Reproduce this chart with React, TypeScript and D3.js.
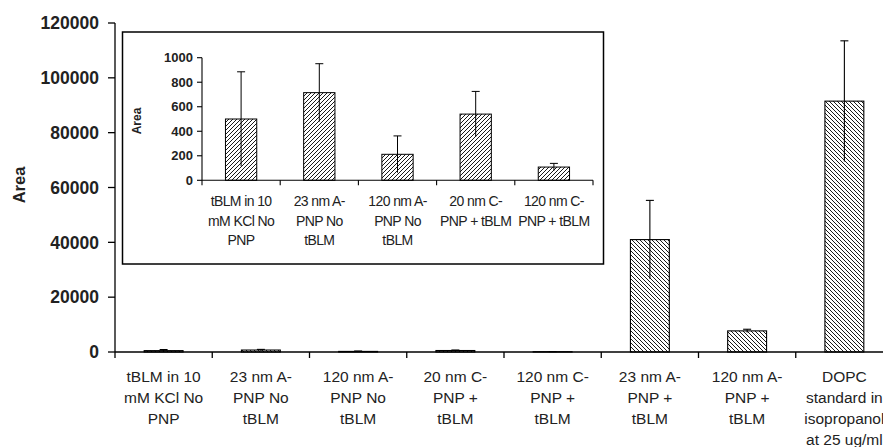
import React, { useEffect } from "react";
import * as d3 from "d3";

const mainLabels = [
  ["tBLM in 10", "mM KCl No", "PNP"],
  ["23 nm A-", "PNP No", "tBLM"],
  ["120 nm A-", "PNP No", "tBLM"],
  ["20 nm C-", "PNP +", "tBLM"],
  ["120 nm C-", "PNP +", "tBLM"],
  ["23 nm A-", "PNP +", "tBLM"],
  ["120 nm A-", "PNP +", "tBLM"],
  ["DOPC", "standard in", "isopropanol", "at 25 ug/ml"],
];
const mainValues = [500, 715, 212, 540, 108, 41000, 7700, 91500];
const mainErrors = [385, 236, 150, 185, 30, 14300, 600, 22000];
const mainTicks = [0, 20000, 40000, 60000, 80000, 100000, 120000];

const insetLabels = [
  ["tBLM in 10", "mM KCl No", "PNP"],
  ["23 nm A-", "PNP No", "tBLM"],
  ["120 nm A-", "PNP No", "tBLM"],
  ["20 nm C-", "PNP + tBLM"],
  ["120 nm C-", "PNP + tBLM"],
];
const insetValues = [500, 715, 212, 540, 108];
const insetErrors = [385, 236, 150, 185, 30];
const insetTicks = [0, 200, 400, 600, 800, 1000];

const FONT = "Liberation Sans, Arial, sans-serif";

export default function App() {
  useEffect(() => {
    document.body.style.margin = "0";
  }, []);

  const W = 883;
  const H = 447;

  // main chart
  const x = d3
    .scaleBand<number>()
    .domain(d3.range(mainValues.length))
    .range([115, 893]);
  const y = d3.scaleLinear().domain([0, 120000]).range([352, 23]);
  const bw = x.bandwidth() * 0.4;

  // inset
  const ix = d3
    .scaleBand<number>()
    .domain(d3.range(insetValues.length))
    .range([202, 593]);
  const iy = d3.scaleLinear().domain([0, 1000]).range([180.3, 57.7]);
  const ibw = ix.bandwidth() * 0.4;

  return (
    <svg width={W} height={H} style={{ display: "block", background: "#fff" }} fontFamily={FONT}>
      <defs>
        <pattern id="hatchMain" patternUnits="userSpaceOnUse" width="4" height="4">
          <rect width="4" height="4" fill="#fff" />
          <path d="M-1,-1 L5,5 M-1,3 L1,5 M3,-1 L5,1" stroke="#000" strokeWidth="0.9" />
        </pattern>
        <pattern id="hatchInset" patternUnits="userSpaceOnUse" width="4" height="4">
          <rect width="4" height="4" fill="#fff" />
          <path d="M-1,5 L5,-1 M-1,1 L1,-1 M3,5 L5,3" stroke="#000" strokeWidth="0.9" />
        </pattern>
      </defs>

      {/* main y axis */}
      <line x1={115} x2={115} y1={y(120000)} y2={y(0)} stroke="#000" strokeWidth={1.3} />
      {mainTicks.map((t) => (
        <g key={t}>
          <line x1={108} x2={115} y1={y(t)} y2={y(t)} stroke="#000" strokeWidth={1.3} />
          <text x={99} y={y(t)} dy="0.36em" textAnchor="end" fontSize={17.5} fontWeight="bold" fill="#222">
            {t}
          </text>
        </g>
      ))}
      <text
        transform="translate(25,185) rotate(-90)"
        textAnchor="middle"
        fontSize={16.5}
        fontWeight="bold"
        fill="#222"
      >
        Area
      </text>

      {/* main bars */}
      {mainValues.map((v, i) => {
        const cx = (x(i) as number) + x.bandwidth() / 2;
        return (
          <g key={i}>
            <rect
              x={cx - bw / 2}
              y={y(v)}
              width={bw}
              height={y(0) - y(v)}
              fill="url(#hatchMain)"
              stroke="#000"
              strokeWidth={1.1}
            />
            <line x1={cx} x2={cx} y1={y(v + mainErrors[i])} y2={y(v - mainErrors[i])} stroke="#000" strokeWidth={1.1} />
            <line x1={cx - 4} x2={cx + 4} y1={y(v + mainErrors[i])} y2={y(v + mainErrors[i])} stroke="#000" strokeWidth={1.1} />
          </g>
        );
      })}

      {/* main x axis */}
      <line x1={115} x2={W} y1={y(0)} y2={y(0)} stroke="#000" strokeWidth={1.3} />
      {d3.range(mainValues.length + 1).map((i) => {
        const tx = 115 + i * x.step();
        return <line key={i} x1={tx} x2={tx} y1={y(0)} y2={y(0) + 6} stroke="#000" strokeWidth={1.3} />;
      })}
      {mainLabels.map((lines, i) => {
        const cx = (x(i) as number) + x.bandwidth() / 2;
        return (
          <text key={i} textAnchor="middle" fontSize={15.5} fill="#222">
            {lines.map((l, j) => (
              <tspan key={j} x={cx} y={382 + j * 21}>
                {l}
              </tspan>
            ))}
          </text>
        );
      })}

      {/* inset box */}
      <rect x={122.5} y={32} width={481} height={232} fill="#fff" stroke="#000" strokeWidth={1.5} />

      {/* inset y axis */}
      <line x1={202} x2={202} y1={iy(1000)} y2={iy(0)} stroke="#000" strokeWidth={1.1} />
      {insetTicks.map((t) => (
        <g key={t}>
          <line x1={197} x2={202} y1={iy(t)} y2={iy(t)} stroke="#000" strokeWidth={1.1} />
          <text x={193} y={iy(t)} dy="0.36em" textAnchor="end" fontSize={13} fontWeight="bold" fill="#222">
            {t}
          </text>
        </g>
      ))}
      <text
        transform={`translate(141,${iy(500) + 2}) rotate(-90)`}
        textAnchor="middle"
        fontSize={12}
        fontWeight="bold"
        fill="#222"
      >
        Area
      </text>

      {/* inset bars */}
      {insetValues.map((v, i) => {
        const cx = (ix(i) as number) + ix.bandwidth() / 2;
        return (
          <g key={i}>
            <rect
              x={cx - ibw / 2}
              y={iy(v)}
              width={ibw}
              height={iy(0) - iy(v)}
              fill="url(#hatchInset)"
              stroke="#000"
              strokeWidth={1}
            />
            <line x1={cx} x2={cx} y1={iy(v + insetErrors[i])} y2={iy(v - insetErrors[i])} stroke="#000" strokeWidth={1} />
            <line x1={cx - 4} x2={cx + 4} y1={iy(v + insetErrors[i])} y2={iy(v + insetErrors[i])} stroke="#000" strokeWidth={1} />
          </g>
        );
      })}

      {/* inset x axis */}
      <line x1={202} x2={593} y1={iy(0)} y2={iy(0)} stroke="#000" strokeWidth={1.1} />
      {d3.range(insetValues.length + 1).map((i) => {
        const tx = 202 + i * ix.step();
        return <line key={i} x1={tx} x2={tx} y1={iy(0)} y2={iy(0) + 5} stroke="#000" strokeWidth={1.1} />;
      })}
      {insetLabels.map((lines, i) => {
        const cx = (ix(i) as number) + ix.bandwidth() / 2;
        return (
          <text key={i} textAnchor="middle" fontSize={14} fill="#222" letterSpacing={-0.6}>
            {lines.map((l, j) => (
              <tspan key={j} x={cx} y={206 + j * 19.5}>
                {l}
              </tspan>
            ))}
          </text>
        );
      })}
    </svg>
  );
}
